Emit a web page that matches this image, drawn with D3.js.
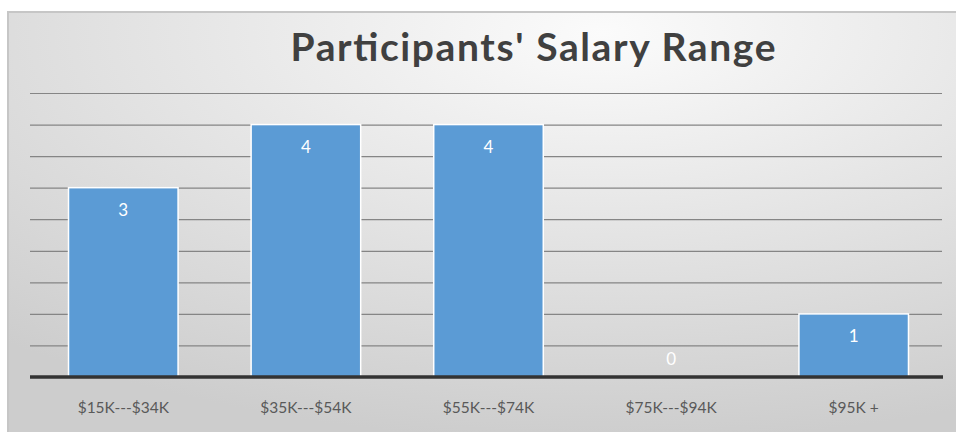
<!DOCTYPE html>
<html>
<head>
<meta charset="utf-8">
<script src="https://cdn.jsdelivr.net/npm/d3@7"></script>
<style>
body { margin:0; background:#fff; }
svg { display:block; }
</style>
</head>
<body>
<div class="chart"></div>
<script>
var categories = ["$15K---$34K", "$35K---$54K", "$55K---$74K", "$75K---$94K", "$95K +"];
var counts = [3, 4, 4, 0, 1];
var gridTicks = [0.5, 1, 1.5, 2, 2.5, 3, 3.5, 4, 4.5];

var width = 956, height = 432;

var svg = d3.select(".chart").append("svg")
    .attr("width", width)
    .attr("height", height);

var defs = svg.append("defs");
var grad = defs.append("radialGradient")
    .attr("id", "bg")
    .attr("cx", "0.62").attr("cy", "0.05").attr("r", "0.95")
    .attr("gradientUnits", "objectBoundingBox");
grad.append("stop").attr("offset", "0").attr("stop-color", "#fbfbfb");
grad.append("stop").attr("offset", "0.45").attr("stop-color", "#e6e6e6");
grad.append("stop").attr("offset", "1").attr("stop-color", "#cdcdcd");

// chart frame
svg.append("rect")
    .attr("x", 8).attr("y", 12)
    .attr("width", 960).attr("height", 430)
    .attr("fill", "url(#bg)")
    .attr("stroke", "#c6c6c6")
    .attr("stroke-width", 2);

var x = d3.scaleBand()
    .domain(categories)
    .range([32, 945])
    .paddingInner(0.4)
    .paddingOuter(0.2);

var y = d3.scaleLinear()
    .domain([0, 4.5])
    .range([377, 93]);

// gridlines
svg.append("g")
    .attr("transform", "translate(30,0)")
    .call(d3.axisLeft(y).tickValues(gridTicks).tickSize(-912).tickFormat(""))
    .call(function(g){
        g.select(".domain").remove();
        g.selectAll(".tick line").attr("stroke", "#858585").attr("stroke-width", 1.2);
    });

// bars
svg.append("g")
    .selectAll("rect")
    .data(counts)
    .enter().append("rect")
        .attr("x", function(d, i){ return x(categories[i]); })
        .attr("y", function(d){ return y(d); })
        .attr("width", x.bandwidth())
        .attr("height", function(d){ return y(0) - y(d); })
        .attr("fill", "#5b9bd5")
        .attr("stroke", function(d){ return d > 0 ? "#ffffff" : "none"; })
        .attr("stroke-width", 1.5);

// data labels
svg.append("g")
    .selectAll("text")
    .data(counts)
    .enter().append("text")
        .attr("x", function(d, i){ return x(categories[i]) + x.bandwidth() / 2; })
        .attr("y", function(d){ return d > 0 ? y(d) + 28 : y(0) - 12; })
        .attr("text-anchor", "middle")
        .attr("fill", "#ffffff")
        .attr("font-family", "Lato, 'Open Sans', sans-serif")
        .attr("font-size", 17)
        .text(function(d){ return d; });

// baseline + category labels
svg.append("g")
    .attr("transform", "translate(0," + y(0) + ")")
    .call(d3.axisBottom(x).tickSize(0).tickPadding(25))
    .call(function(g){
        g.select(".domain").attr("d", "M30,0H943").attr("stroke", "#333333").attr("stroke-width", 3.5);
        g.selectAll("text")
            .attr("fill", "#595959")
            .attr("font-family", "Lato, 'Open Sans', sans-serif")
            .attr("font-size", 15.5);
    });

// title
svg.append("text")
    .attr("x", 533)
    .attr("y", 61)
    .attr("text-anchor", "middle")
    .attr("fill", "#404040")
    .attr("font-family", "Lato, 'Open Sans', sans-serif")
    .attr("font-weight", "bold")
    .attr("font-size", 39)
    .attr("textLength", 485)
    .attr("lengthAdjust", "spacing")
    .text("Participants' Salary Range");
</script>
</body>
</html>
